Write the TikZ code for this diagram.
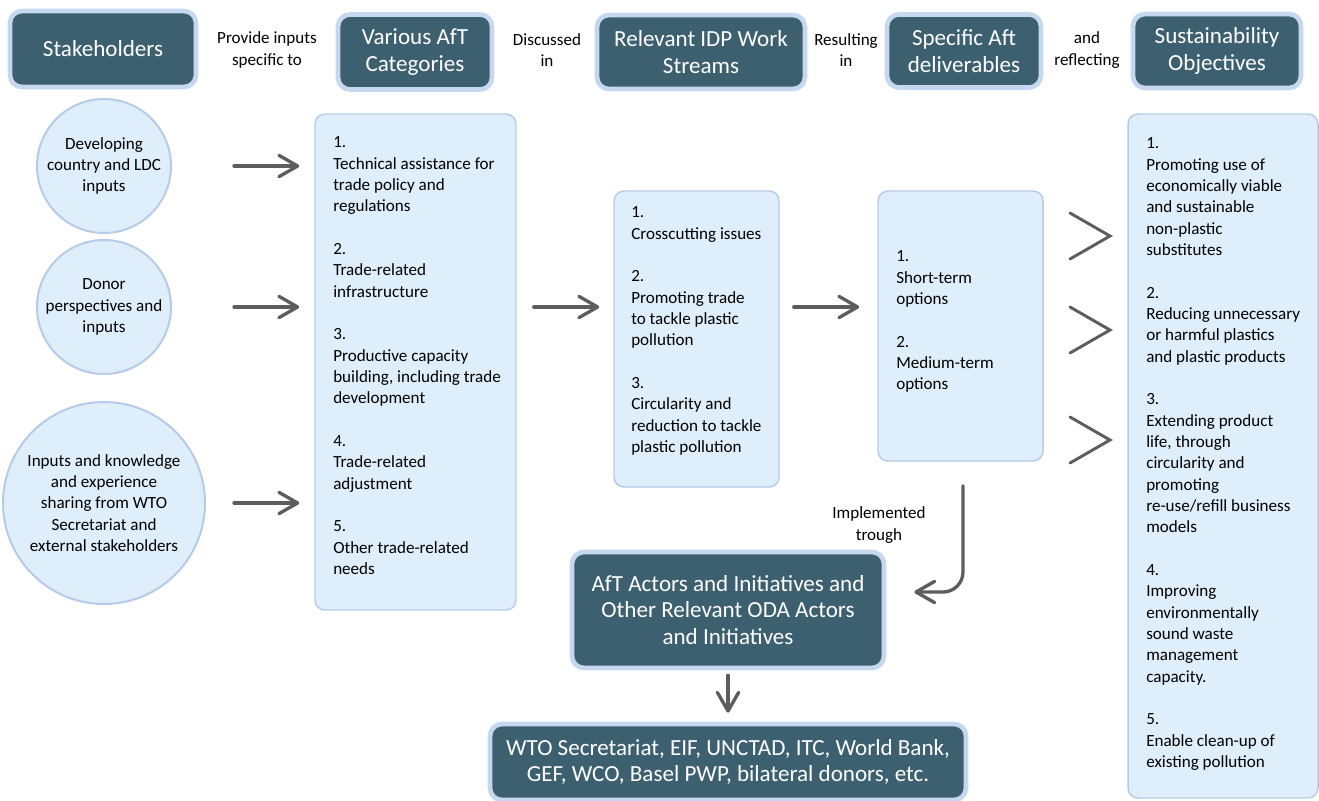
\documentclass[tikz,border=0pt]{standalone}
\usepackage{fontspec}
\setmainfont{Carlito}
\usetikzlibrary{arrows.meta,calc}
\definecolor{dark}{HTML}{3D6070}
\definecolor{ring}{HTML}{C6D8F0}
\definecolor{lightfill}{HTML}{DFEEFB}
\definecolor{lightline}{HTML}{B5CBE9}
\definecolor{arrowgrey}{HTML}{5D5D5D}
\tikzset{
 hdr/.style={draw=ring, line width=3.5pt, fill=dark, rounded corners=9pt, text=white, font=\fontsize{17.3}{20}\selectfont, align=center, inner sep=0pt},
 lbox/.style={draw=lightline, line width=1.1pt, fill=lightfill, rounded corners=7.5pt, inner sep=0pt},
 circ/.style={circle, draw=lightline, line width=1.5pt, fill=lightfill, align=center, inner sep=0pt, font=\fontsize{12.8}{16}\selectfont},
 btext/.style={anchor=north west, inner sep=0pt, align=left, font=\fontsize{12.8}{16}\selectfont},
 lab/.style={align=center, inner sep=0pt, font=\fontsize{12.8}{16}\selectfont},
 arr/.style={draw=arrowgrey, line width=2.5pt, line cap=round, -{Straight Barb[length=14pt,width=16pt,round]}},
 chev/.style={draw=arrowgrey, line width=2.2pt, line cap=round},
}
\begin{document}
\begin{tikzpicture}[x=0.75pt,y=-0.75pt]
\useasboundingbox (0,0) rectangle (1319,800);
% header row
\node[hdr, minimum width=139.5pt, minimum height=57pt] (stake) at (103,49) {Stakeholders};
\node[hdr, minimum width=115.5pt, minimum height=56.25pt] (various) at (415,52) {Various AfT\\Categories};
\node[hdr, minimum width=156pt, minimum height=55.5pt] (idp) at (701,52) {Relevant IDP Work\\Streams};
\node[hdr, minimum width=115.5pt, minimum height=54.75pt] (spec) at (964,51) {Specific Aft\\deliverables};
\node[hdr, minimum width=126pt, minimum height=55.5pt] (sust) at (1217,51) {Sustainability\\Objectives};
\node[lab] (l1) at (267,50) {Provide inputs\\specific to};
\node[lab] (l2) at (547,50) {Discussed\\in};
\node[lab] (l3) at (846,50) {Resulting\\in};
\node[lab] (l4) at (1087,50) {and\\reflecting};
% circles
\node[circ, minimum size=100.5pt] (c1) at (104,166) {Developing\\country and LDC\\inputs};
\node[circ, minimum size=100.5pt] (c2) at (104,307) {Donor\\perspectives and\\inputs};
\node[circ, minimum size=151.5pt] (c3) at (104,503) {Inputs and knowledge\\and experience\\sharing from WTO\\Secretariat and\\external stakeholders};
% light boxes
\node[lbox, minimum width=150.75pt, minimum height=372pt] (b1) at (415.5,362) {};
\node[lbox, minimum width=123.75pt, minimum height=222pt] (b2) at (696.5,339) {};
\node[lbox, minimum width=123.75pt, minimum height=202.5pt] (b3) at (960.5,326) {};
\node[lbox, minimum width=142.5pt, minimum height=513pt] (b4) at (1223,456) {};
\node[btext] (b1t) at (333,132.6) {\strut 1.\\Technical assistance for\\trade policy and\\regulations\\[16pt]2.\\Trade-related\\infrastructure\\[16pt]3.\\Productive capacity\\building, including trade\\development\\[16pt]4.\\Trade-related\\adjustment\\[16pt]5.\\Other trade-related\\needs};
\node[btext] (b2t) at (631,202.6) {\strut 1.\\Crosscutting issues\\[16pt]2.\\Promoting trade\\to tackle plastic\\pollution\\[16pt]3.\\Circularity and\\reduction to tackle\\plastic pollution};
\node[btext] (b3t) at (896,246.6) {\strut 1.\\Short-term\\options\\[16pt]2.\\Medium-term\\options};
\node[btext] (b4t) at (1146,133.6) {\strut 1.\\Promoting use of\\economically viable\\and sustainable\\non-plastic\\substitutes\\[16pt]2.\\Reducing unnecessary\\or harmful plastics\\and plastic products\\[16pt]3.\\Extending product\\life, through\\circularity and\\promoting\\re-use/refill business\\models\\[16pt]4.\\Improving\\environmentally\\sound waste\\management\\capacity.\\[16pt]5.\\Enable clean-up of\\existing pollution};
% bottom boxes
\node[hdr, minimum width=234pt, minimum height=87pt] (actors) at (728,610) {AfT Actors and Initiatives and\\Other Relevant ODA Actors\\and Initiatives};
\node[hdr, minimum width=357pt, minimum height=57pt] (wto) at (728,762) {WTO Secretariat, EIF, UNCTAD, ITC, World Bank,\\GEF, WCO, Basel PWP, bilateral donors, etc.};
\node[lab] (l5) at (879,525) {Implemented\\trough};
% arrows
\draw[arr, shorten <=46.5pt, shorten >=11.25pt] (c1.east) -- (c1.east -| b1.west);
\draw[arr, shorten <=46.5pt, shorten >=11.25pt] (c2.east) -- (c2.east -| b1.west);
\draw[arr, shorten <=21pt, shorten >=11.25pt] (c3.east) -- (c3.east -| b1.west);
\draw[arr, shorten <=12.75pt, shorten >=10.5pt] (b1.east |- c2.east) -- (b2.west |- c2.east);
\draw[arr, shorten <=10.5pt, shorten >=13.5pt] (b2.east |- c2.east) -- (b3.west |- c2.east);
\coordinate (implstart) at ($(b3.south)+(2.5,24)$);
\draw[arr, rounded corners=15pt, shorten >=21pt] (implstart) |- ($(actors.east)+(0,-18)$);
\draw[arr, shorten <=3.75pt, shorten >=6.75pt] (actors.south) -- (wto.north);
\coordinate (ch1) at (1110,236);
\coordinate (ch2) at (1110,330);
\coordinate (ch3) at (1110,440);
\foreach \c in {ch1,ch2,ch3}{
  \draw[chev] ($(\c)+(-40,-23)$) -- (\c) -- ($(\c)+(-40,23)$);
}
\end{tikzpicture}
\end{document}
